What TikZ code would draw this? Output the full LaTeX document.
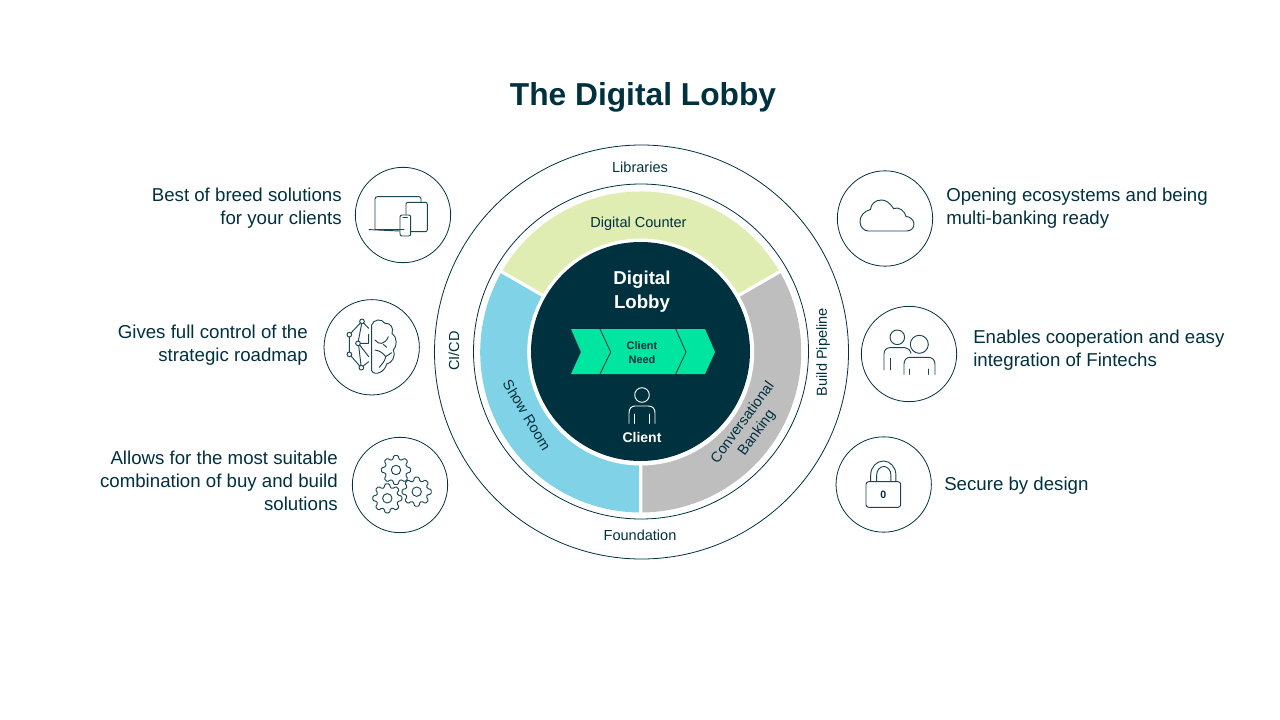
\documentclass[tikz,border=0pt]{standalone}
\usepackage{fontspec}
\setmainfont{Liberation Sans}
\definecolor{navy}{HTML}{00313F}
\definecolor{lime}{HTML}{DFECB2}
\definecolor{sky}{HTML}{80D2E6}
\definecolor{graybar}{HTML}{BEBEBE}
\definecolor{mint}{HTML}{00E6A0}
\newcommand{\gearicon}[2]{%
  \draw[icon,rounded corners=0.8pt,shift={(#1,#2)}] (-16:11)
    \foreach \a in {0,45,...,315}{ -- (\a-16:11) -- (\a-9:14.7) -- (\a+9:14.7) -- (\a+16:11) } -- cycle;
  \draw[icon] (#1,#2) circle[radius=4.7];
}
\tikzset{
  ringline/.style={draw=navy,line width=0.6pt},
  iconcircle/.style={circle,draw=navy,line width=0.6pt,minimum size=71.5pt,inner sep=0pt},
  icon/.style={draw=navy!90!white,line width=0.7pt,line cap=round,line join=round},
  whiteicon/.style={draw=white,line width=0.7pt,line cap=round,line join=round},
  lead/.style={text=navy,font=\fontsize{14}{17.25}\selectfont,inner sep=0pt},
  leadr/.style={lead,anchor=east,align=right},
  leadl/.style={lead,anchor=west,align=left},
  ringlabel/.style={text=navy,font=\fontsize{10.9}{13}\selectfont,inner sep=0pt,align=center},
}
\begin{document}
\begin{tikzpicture}[x=0.75pt,y=-0.75pt]
\useasboundingbox (0,0) rectangle (1280,720);
\fill[white] (0,0) rectangle (1280,720);
\coordinate (c) at (640.7,352);
% rings
\draw[ringline] (641.5,352) circle[radius=207];
\draw[ringline] (641,351.5) circle[radius=167.5];
% segments (angles run clockwise on the page)
\fill[lime] (c) -- ++(-150:160.5) arc[start angle=-150,end angle=-30,radius=160.5] -- cycle;
\fill[graybar] (c) -- ++(-30:160.5) arc[start angle=-30,end angle=90,radius=160.5] -- cycle;
\fill[sky] (c) -- ++(90:160.5) arc[start angle=90,end angle=210,radius=160.5] -- cycle;
\draw[white,line width=2.4pt] (c) -- ++(-150:163) (c) -- ++(-30:163) (c) -- ++(90:163);
\fill[white] (c) circle[radius=113.5];
\fill[navy] (640.5,351.5) circle[radius=109.5];
% title
\node[text=navy,font=\fontsize{23.8}{28}\bfseries\selectfont,inner sep=0pt] (title) at (643,97) {The Digital Lobby};
% ring labels
\node[ringlabel] (libraries) at (640,167) {Libraries};
\node[ringlabel] (foundation) at (640,535) {Foundation};
\node[ringlabel,rotate=90] (cicd) at (454,351) {CI/CD};
\node[ringlabel,rotate=90] (build) at (823,352) {Build Pipeline};
\node[ringlabel] (counter) at (638.5,224) {Digital Counter};
\node[ringlabel,rotate=-59] (show) at (527,415) {Show Room};
\node[ringlabel,rotate=54] (conv) at (750,428) {Conversational\\Banking};
% centre
\node[text=white,align=center,inner sep=0pt,font=\fontsize{14}{18}\bfseries\selectfont] (lobby) at (642,291.5) {Digital\\Lobby};
\fill[mint] (571,329) -- (705,329) -- (715,352) -- (705,374) -- (571,374) -- (581,352) -- cycle;
\draw[navy,line width=0.6pt] (600,329) -- (610.7,352) -- (600,374);
\draw[navy,line width=0.6pt] (675.7,329) -- (686,352) -- (675.7,374);
\node[text=navy,align=center,inner sep=0pt,font=\fontsize{8.25}{10.5}\bfseries\selectfont] (need) at (642,353) {Client\\Need};
\draw[whiteicon] (642,395) circle[radius=7.3];
\draw[whiteicon] (629,423.3) -- (629,413) .. controls (629,408.5) and (631.5,406) .. (635,406) -- (648.3,406) .. controls (652.5,406) and (655,408.5) .. (655,413) -- (655,423.3);
\draw[whiteicon] (634.7,414) -- (634.7,423.3) (649.3,414) -- (649.3,423.3);
\node[text=white,inner sep=0pt,font=\fontsize{10.5}{13}\bfseries\selectfont] (client) at (642,437) {Client};
% icon circles
\node[iconcircle] (c1) at (403,215) {};
\node[iconcircle] (c2) at (371.7,347.3) {};
\node[iconcircle] (c3) at (400,485) {};
\node[iconcircle] (c4) at (885,218.5) {};
\node[iconcircle] (c5) at (909,354) {};
\node[iconcircle] (c6) at (883.7,484.5) {};
% texts
\node[leadr] (t1) at (342,208) {Best of breed solutions\\for your clients};
\node[leadr] (t2) at (308,345.5) {Gives full control of the\\strategic roadmap};
\node[leadr] (t3) at (338,481) {Allows for the most suitable\\combination of buy and build\\solutions};
\node[leadl] (t4) at (946,208) {Opening ecosystems and being\\multi-banking ready};
\node[leadl] (t5) at (973,350.5) {Enables cooperation and easy\\integration of Fintechs};
\node[leadl] (t6) at (944,486) {Secure by design};
% devices
\draw[icon] (404,229.5) -- (376,229.5) -- (375,229.5) -- (375,199) .. controls (375,197.5) and (376,196.7) .. (377.5,196.7) -- (419,196.7) .. controls (420.3,196.7) and (421,197.5) .. (421,199) -- (421,202.3);
\draw[icon] (369,229.6) -- (399.5,231);
\draw[icon,rounded corners=1.5pt] (406,215) -- (406,202.3) -- (427.3,202.3) -- (427.3,231.7) -- (410.7,231.7);
\draw[icon,rounded corners=1.5pt] (400,215) rectangle (410.7,236);
\draw[icon] (403,217.5) -- (407.5,217.5);
% brain
\begin{scope}[shift={(320,160)},x=0.25pt,y=-0.25pt]
\draw[icon] (155,495) .. controls (160,478) and (185,474) .. (195,490) .. controls (212,488) and (222,505) .. (216,520) .. controls (232,530) and (232,560) .. (220,570) .. controls (228,590) and (215,610) .. (200,612) .. controls (195,635) and (165,650) .. (155,632) -- cycle;
\draw[icon] (165,540) .. controls (175,555) and (195,555) .. (205,530);
\draw[icon] (190,553) -- (200,562);
\draw[icon] (165,570) .. controls (180,572) and (190,580) .. (197,590) .. controls (195,605) and (185,612) .. (178,622);
\draw[icon] (197,590) -- (215,578);
\draw[icon] (126,484) circle[radius=7] (88,524) circle[radius=7] (114,550) circle[radius=7] (88,583) circle[radius=7] (124,623) circle[radius=7];
\draw[icon] (121,489) -- (93,519) (88,531) -- (88,576) (93,588) -- (119,618) (125,491) -- (115,543) (116,557) -- (123,616) (121,550) -- (146,550) -- (146,523) (119,555) -- (146,590) (131,489) -- (146,505) (130,618) -- (146,605);
\end{scope}
% gears
\gearicon{396}{470}
\gearicon{387.3}{498.3}
\gearicon{416.7}{491.7}
% cloud
\draw[icon] (868.3,231) -- (906.7,231) .. controls (911,231) and (914,228) .. (914,224) .. controls (914,220) and (910,216.5) .. (906,216.5) .. controls (905,211) and (899,206.5) .. (893.5,208.5) .. controls (890,203) and (886,200) .. (881.5,200) .. controls (875,200) and (871,204) .. (870.5,209.5) .. controls (864,211) and (860,216) .. (860,221.5) .. controls (860,227) and (864,231) .. (868.3,231) -- cycle;
% people
\draw[icon] (897.3,337.3) circle[radius=7.3];
\draw[icon] (919.3,344.3) circle[radius=9];
\draw[icon] (884,370) -- (884,354) .. controls (884,350) and (886.5,347.7) .. (890,347.7) -- (905,347.7) .. controls (908,347.7) and (910,350) .. (911,353.3);
\draw[icon] (890,358.3) -- (890,370);
\draw[icon] (904,374.3) -- (904,364) .. controls (904,360) and (906.5,357.3) .. (910,357.3) -- (928.3,357.3) .. controls (932,357.3) and (935,360) .. (935,364) -- (935,374.3);
\draw[icon] (909.3,369) -- (909.3,374.3) (928.3,369) -- (928.3,374.3);
% lock
\draw[icon,rounded corners=2pt] (866,481.7) rectangle (900.7,507.3);
\draw[icon] (870.7,481.7) -- (870.7,475) arc[start angle=180,end angle=360,x radius=12.6,y radius=14] -- (895.9,481.7);
\draw[icon] (876.7,481.7) -- (876.7,475) arc[start angle=180,end angle=360,x radius=7.1,y radius=8.5] -- (890.9,481.7);
\node[text=navy,inner sep=0pt,font=\fontsize{8}{10}\bfseries\selectfont] (zero) at (883.3,495) {0};
\end{tikzpicture}
\end{document}
